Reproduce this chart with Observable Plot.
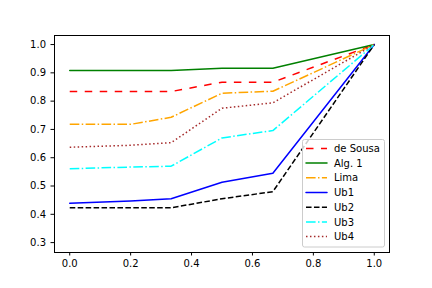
<!DOCTYPE html>
<html>
<head>
<meta charset="utf-8">
<script src="https://cdn.jsdelivr.net/npm/d3@7"></script>
<script src="https://cdn.jsdelivr.net/npm/@observablehq/plot@0.6"></script>
<style>
  html, body { margin: 0; padding: 0; background: #fff; }
  #chart { width: 432px; height: 288px; }
</style>
</head>
<body>
<div id="chart"></div>
<script>
// ---- data ----
const xValues = [0, 0.2, 0.333, 0.5, 0.667, 1.0];
const deSousa = [0.834, 0.834, 0.834, 0.867, 0.867, 1.0];
const alg1    = [0.908, 0.908, 0.908, 0.916, 0.916, 1.0];
const lima    = [0.718, 0.718, 0.743, 0.828, 0.835, 1.0];
const ub1     = [0.439, 0.447, 0.455, 0.513, 0.545, 1.0];
const ub2     = [0.423, 0.423, 0.423, 0.455, 0.480, 1.0];
const ub3     = [0.561, 0.567, 0.570, 0.670, 0.696, 1.0];
const ub4     = [0.637, 0.644, 0.653, 0.775, 0.794, 1.0];
const seriesNames = ["de Sousa", "Alg. 1", "Lima", "Ub1", "Ub2", "Ub3", "Ub4"];
const xTicks = [0, 0.2, 0.4, 0.6, 0.8, 1.0];
const yTicks = [0.3, 0.4, 0.5, 0.6, 0.7, 0.8, 0.9, 1.0];

// ---- styles ----
const seriesValues = [deSousa, alg1, lima, ub1, ub2, ub3, ub4];
const styles = [
  {stroke: "#ff0000", dash: "7.5,7.5"},
  {stroke: "#008000", dash: null},
  {stroke: "#ffa500", dash: "9.6,2.4,1.5,2.4"},
  {stroke: "#0000ff", dash: null},
  {stroke: "#000000", dash: "5.55,2.4"},
  {stroke: "#00ffff", dash: "9.6,2.4,1.5,2.4"},
  {stroke: "#a52a2a", dash: "1.5,2.475"}
];

const lineMarks = seriesNames.map((name, i) => {
  const rows = xValues.map((x, j) => ({x, y: seriesValues[i][j], name}));
  return Plot.line(rows, {
    x: "x", y: "y",
    stroke: styles[i].stroke,
    strokeWidth: 1.5,
    strokeDasharray: styles[i].dash ?? undefined,
    strokeLinecap: styles[i].dash ? "butt" : "round",
    strokeLinejoin: "round"
  });
});

const fmt = d3.format(".1f");
const svg = Plot.plot({
  width: 432,
  height: 288,
  marginLeft: 54,
  marginRight: 43,
  marginTop: 35,
  marginBottom: 36,
  style: {fontFamily: "'DejaVu Sans', sans-serif", fontSize: "10px", color: "#000", background: "#fff"},
  x: {domain: [-0.05, 1.05]},
  y: {domain: [0.265, 1.032]},
  marks: [
    ...lineMarks,
    Plot.axisX({ticks: xTicks, tickFormat: fmt, tickSize: 3.5, tickPadding: 4, label: null, fontSize: 10}),
    Plot.axisY({ticks: yTicks, tickFormat: fmt, tickSize: 3.5, tickPadding: 5, label: null, fontSize: 10}),
    Plot.frame({stroke: "#000", strokeWidth: 1})
  ]
});
document.getElementById("chart").appendChild(svg);

// ---- legend (lower right, matplotlib-style) ----
const s = d3.select(svg);
const lg = s.append("g")
  .attr("text-anchor", "start")
  .style("font-family", "'DejaVu Sans', sans-serif")
  .style("font-size", "10px");
lg.append("rect")
  .attr("x", 302.5).attr("y", 139.5).attr("width", 82).attr("height", 107.5)
  .attr("rx", 2).attr("ry", 2)
  .style("fill", "#ffffff").style("fill-opacity", 0.8)
  .style("stroke", "#cccccc").style("stroke-width", 1);
seriesNames.forEach((name, i) => {
  const y = 148.4 + i * 14.7;
  const ln = lg.append("line")
    .attr("x1", 306).attr("x2", 327).attr("y1", y).attr("y2", y)
    .style("stroke", styles[i].stroke).style("stroke-width", 1.5)
    .style("stroke-linecap", styles[i].dash ? "butt" : "round");
  if (styles[i].dash) ln.style("stroke-dasharray", styles[i].dash);
  lg.append("text").attr("x", 334).attr("y", y + 3.6)
    .attr("text-anchor", "start").style("fill", "#000").text(name);
});
</script>
</body>
</html>
